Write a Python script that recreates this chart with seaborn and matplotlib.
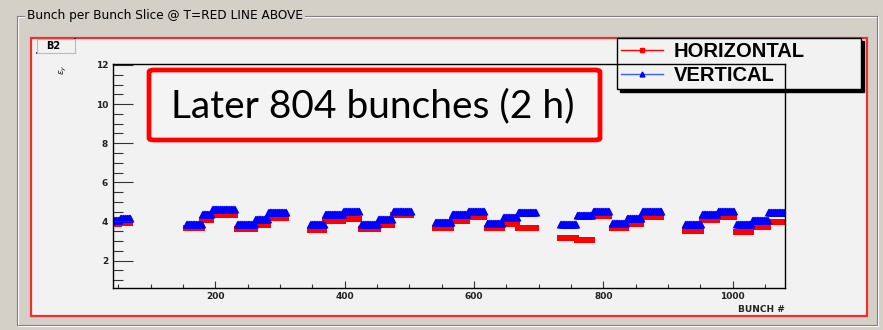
import numpy as np
import pandas as pd
import matplotlib
matplotlib.use("Agg")
import matplotlib.pyplot as plt
from matplotlib.lines import Line2D
from matplotlib.patches import Rectangle, FancyBboxPatch
import seaborn as sns

# Batches of bunches: first and last bunch slot of each batch
batch_first = [43, 53, 155, 180, 195, 234, 262, 282, 347, 370, 398, 426, 452, 475,
               540, 566, 591, 620, 645, 668, 733, 759, 784, 813, 836, 860, 926, 952,
               977, 1006, 1030, 1055]
batch_last = [52, 69, 179, 194, 230, 261, 281, 310, 369, 397, 423, 451, 474, 503,
              565, 590, 616, 644, 667, 696, 758, 783, 809, 835, 859, 890, 951, 976,
              1002, 1029, 1054, 1082]
# Emittance per batch (um)
emit_h = [3.85, 3.90, 3.66, 4.10, 4.31, 3.63, 3.83, 4.17, 3.55, 4.00, 4.14, 3.63,
          3.83, 4.31, 3.68, 4.05, 4.22, 3.66, 3.88, 3.66, 3.15, 3.05, 4.26, 3.68,
          3.88, 4.24, 3.49, 4.10, 4.22, 3.45, 3.71, 3.96]
emit_v = [4.10, 4.20, 3.88, 4.40, 4.65, 3.88, 4.14, 4.51, 3.88, 4.39, 4.56, 3.88,
          4.14, 4.56, 3.96, 4.36, 4.55, 3.93, 4.22, 4.51, 3.85, 4.34, 4.56, 3.93,
          4.19, 4.55, 3.85, 4.36, 4.53, 3.85, 4.10, 4.51]

x_ticks = [200, 400, 600, 800, 1000]
y_ticks = [2, 4, 6, 8, 10, 12]

rows = []
for first, last, h, v in zip(batch_first, batch_last, emit_h, emit_v):
    for b in range(first, last + 1):
        rows.append((b, h, "HORIZONTAL"))
        rows.append((b, v, "VERTICAL"))
df = pd.DataFrame(rows, columns=["bunch", "emittance", "plane"])

W, H = 883, 330


def fx(x):
    return x / W


def fy(y):
    return 1 - y / H


fig = plt.figure(figsize=(W / 100, H / 100), dpi=100, facecolor="#d4d0c8")

# etched group box with its caption
fig.patches.append(Rectangle((fx(18), fy(326)), (878 - 18) / W, (326 - 17) / H,
                             transform=fig.transFigure, fill=False,
                             edgecolor="white", lw=0.8, zorder=-2))
fig.patches.append(Rectangle((fx(17), fy(325)), (877 - 17) / W, (325 - 16) / H,
                             transform=fig.transFigure, fill=False,
                             edgecolor="#808080", lw=0.8, zorder=-2))
fig.text(fx(27), fy(16), "Bunch per Bunch Slice @ T=RED LINE ABOVE",
         fontsize=8.7, color="black", va="center", ha="left",
         bbox=dict(facecolor="#d4d0c8", edgecolor="none", pad=1.5), zorder=-1)

# canvas
fig.patches.append(Rectangle((fx(31), fy(316)), (867 - 31) / W, (316 - 38) / H,
                             transform=fig.transFigure, facecolor="#f2f2f2",
                             edgecolor="#f03030", lw=1.6, zorder=-1))

# "B2" tab
fig.patches.append(Rectangle((fx(37), fy(53)), (75 - 37) / W, (53 - 39) / H,
                             transform=fig.transFigure, facecolor="#f2f2f2",
                             edgecolor="#bbbbbb", lw=0.8, zorder=3))
fig.lines.append(Line2D([fx(37), fx(75), fx(75)], [fy(53), fy(53), fy(39)],
                        transform=fig.transFigure, color="black", lw=1.2, zorder=3))
fig.text(fx(53), fy(46), "B2", fontsize=7, fontweight="bold", ha="center",
         va="center", color="black", zorder=4)

ax = fig.add_axes([fx(113), fy(288), (785 - 113) / W, (288 - 64) / H])
ax.set_zorder(1)
ax.set_facecolor("#f2f2f2")

sns.scatterplot(data=df[df.plane == "HORIZONTAL"], x="bunch", y="emittance",
                color="#ff0000", marker="s", s=24, linewidth=0, ax=ax,
                legend=False, zorder=1)
sns.scatterplot(data=df[df.plane == "VERTICAL"], x="bunch", y="emittance",
                color="#0000ff", marker="^", s=30, linewidth=0, ax=ax,
                legend=False, zorder=1)

ax.set_xlim(42, 1081)
ax.set_ylim(0.6, 12.05)
ax.set_xticks(x_ticks)
ax.set_yticks(y_ticks)
ax.set_xticks(np.arange(50, 1081, 50), minor=True)
ax.set_yticks(np.arange(1.0, 12.01, 0.5), minor=True)
ax.set_xticklabels([str(t) for t in x_ticks])
ax.set_yticklabels([str(t) for t in y_ticks])
for s in ax.spines.values():
    s.set_color("black")
    s.set_linewidth(1.0)
    s.set_zorder(6)
ax.tick_params(axis="y", which="major", direction="in", length=14.4, width=0.8,
               pad=3.5, labelsize=6.5, labelcolor="#222222", color="#333333")
ax.tick_params(axis="y", which="minor", direction="in", length=7.2, width=0.8,
               color="#333333")
ax.tick_params(axis="x", which="major", direction="in", length=5, width=0.8,
               pad=3, labelsize=6.5, labelcolor="#222222", color="#333333")
ax.tick_params(axis="x", which="minor", direction="in", length=2.9, width=0.8,
               color="#333333")
for lab in ax.get_xticklabels() + ax.get_yticklabels():
    lab.set_fontweight("bold")

ax.set_xlabel("BUNCH #", loc="right", fontsize=6.5, fontweight="bold",
              color="#222222", labelpad=3)
ax.set_ylabel(r"$\epsilon_y$", loc="top", fontsize=6.5, color="#222222",
              labelpad=19)

# legend box, spanning past the right edge of the frame
handles = [Line2D([], [], color="#ff0000", marker="s", markersize=3.5, lw=1),
           Line2D([], [], color="#3a5cff", marker="^", markersize=3.5, lw=1,
                  markerfacecolor="#0000ff", markeredgecolor="#0000ff")]
leg = ax.legend(handles, ["HORIZONTAL", "VERTICAL"], loc="upper left",
                bbox_to_anchor=(fx(617), fy(86), 244 / W, 48 / H),
                bbox_transform=fig.transFigure, mode="expand",
                borderaxespad=0, fancybox=False, framealpha=1,
                facecolor="#f2f2f2", edgecolor="black",
                shadow={"color": "black", "alpha": 1},
                prop=dict(size=14.5, weight="bold", family="Liberation Sans"),
                handlelength=2.1, handletextpad=0.5, borderpad=0.2,
                labelspacing=0.25)
leg.get_frame().set_linewidth(1.0)
leg.set_zorder(2)

# annotation box
fig.patches.append(FancyBboxPatch((fx(149), fy(140)), (600 - 149) / W, (140 - 70) / H,
                                  boxstyle="round,pad=0,rounding_size=0.006",
                                  transform=fig.transFigure, facecolor="#f4f4f4",
                                  edgecolor="#ff0000", lw=3.4, zorder=5))
fig.text(fx(373), fy(106), "Later 804 bunches (2 h)", fontsize=28,
         family="Lato", ha="center", va="center", color="black", zorder=6)

fig.savefig("out.png", dpi=100, facecolor=fig.get_facecolor())
